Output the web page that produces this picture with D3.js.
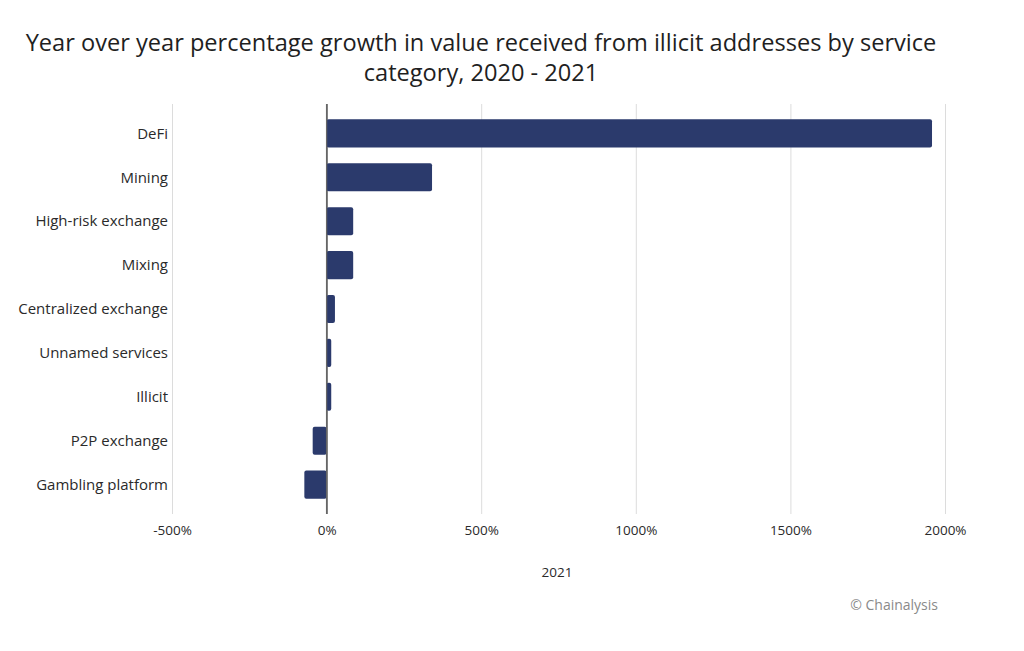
<!DOCTYPE html>
<html>
<head>
<meta charset="utf-8">
<script src="https://cdn.jsdelivr.net/npm/d3@7"></script>
<style>
  body { margin: 0; background: #fff; }
  svg text { font-family: "Open Sans", "Noto Sans", sans-serif; }
  .tick line { stroke: #d9d9d9; }
  .domain { display: none; }
</style>
</head>
<body>
<script>
//-----------------Data----------------

const categories = ["DeFi", "Mining", "High-risk exchange", "Mixing", "Centralized exchange", "Unnamed services", "Illicit", "P2P exchange", "Gambling platform"];
const growth2021 = [1958, 341, 86, 86, 27, 15, 15, -45, -72];
const xTicks = [-500, 0, 500, 1000, 1500, 2000];

//-----------------Svg----------------

const width = 1024;
const height = 651;

const svg = d3.select("body").append("svg").attr("width", width).attr("height", height);

//-----------------Header---------------------

svg
  .append("text")
  .text("Year over year percentage growth in value received from illicit addresses by service")
  .attr("x", 481)
  .attr("y", 51)
  .style("font-size", "23.6px")
  .style("fill", "#1f1f1f")
  .style("text-anchor", "middle");

svg
  .append("text")
  .text("category, 2020 - 2021")
  .attr("x", 481)
  .attr("y", 81)
  .style("font-size", "23.6px")
  .style("fill", "#1f1f1f")
  .style("text-anchor", "middle");

//----------------Scaling-----------------

const plotTop = 104;
const plotBottom = 514;

const x = d3.scaleLinear().domain([-500, 2000]).range([172, 945]);

const y = d3.scaleBand().domain(categories).range([plotTop, plotBottom]).paddingInner(0.36).paddingOuter(0.35);

//----------------Grid + x axis-----------------

const xAxis = svg
  .append("g")
  .attr("transform", `translate(0, ${plotBottom})`)
  .call(
    d3
      .axisBottom(x)
      .tickValues(xTicks)
      .tickSize(-(plotBottom - plotTop))
      .tickPadding(11)
      .tickFormat((d) => d + "%")
  );

xAxis.selectAll(".tick text").style("font-size", "13.5px").style("fill", "#2a2a2a");
xAxis
  .selectAll(".tick line")
  .style("stroke", (d) => (d === 0 ? "#666" : "#dcdcdc"))
  .style("stroke-width", (d) => (d === 0 ? 1.3 : 1));

//----------------Bars-----------------

svg
  .selectAll(".bar")
  .data(categories)
  .enter()
  .append("rect")
  .attr("class", "bar")
  .attr("x", (d, i) => x(Math.min(0, growth2021[i])))
  .attr("y", (d) => y(d))
  .attr("width", (d, i) => Math.abs(x(growth2021[i]) - x(0)))
  .attr("height", y.bandwidth())
  .attr("rx", 2)
  .style("fill", "#2b3a6c");

// zero line back on top of bars
svg
  .append("line")
  .attr("x1", x(0))
  .attr("x2", x(0))
  .attr("y1", plotTop)
  .attr("y2", plotBottom)
  .style("stroke", "#666")
  .style("stroke-width", 1.3);

//----------------Category labels-----------------

svg
  .selectAll(".catLabel")
  .data(categories)
  .enter()
  .append("text")
  .attr("class", "catLabel")
  .text((d) => d)
  .attr("x", 168)
  .attr("y", (d) => y(d) + y.bandwidth() / 2)
  .attr("dy", "0.35em")
  .style("font-size", "15px")
  .style("fill", "#2a2a2a")
  .style("text-anchor", "end");

//------------Axis title + credit--------------

svg
  .append("text")
  .text("2021")
  .attr("x", 557)
  .attr("y", 577)
  .style("font-size", "13.5px")
  .style("fill", "#2a2a2a")
  .style("text-anchor", "middle");

svg
  .append("text")
  .text("\u00A9 Chainalysis")
  .attr("x", 938)
  .attr("y", 610)
  .style("font-size", "14px")
  .style("fill", "#8a8a8a")
  .style("text-anchor", "end");
</script>
</body>
</html>
